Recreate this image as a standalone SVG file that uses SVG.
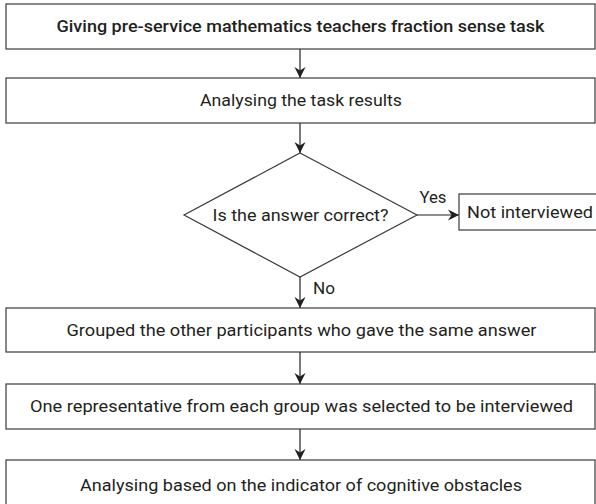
<svg xmlns="http://www.w3.org/2000/svg" width="596" height="504" viewBox="0 0 596 504">
<defs>
<style>
.box{fill:#fff;stroke:#3a3a3a;stroke-width:1.2}
.t{font-family:Roboto,"Noto Sans",sans-serif;font-size:16px;fill:#231f20;text-anchor:middle}
.b{font-weight:500}
.c{fill:none;stroke:#231f20;stroke-width:1.2}
</style>
<marker id="ah" markerUnits="userSpaceOnUse" markerWidth="12" markerHeight="14" viewBox="0 0 12 14" refX="11" refY="7" orient="auto">
<path d="M0,1.5 L11,7 L0,12.5 L3.5,7 z" fill="#231f20"/>
</marker>
</defs>
<rect width="596" height="504" fill="#fff"/>
<g id="connectors">
<line class="c" x1="300" y1="49" x2="300" y2="78" marker-end="url(#ah)"/>
<line class="c" x1="300" y1="123" x2="300" y2="153" marker-end="url(#ah)"/>
<line class="c" x1="417" y1="215" x2="459" y2="215" stroke-width="1.6" marker-end="url(#ah)"/>
<line class="c" x1="300" y1="277" x2="300" y2="308" marker-end="url(#ah)"/>
<line class="c" x1="300" y1="352" x2="300" y2="384" marker-end="url(#ah)"/>
<line class="c" x1="300" y1="429" x2="300" y2="460" marker-end="url(#ah)"/>
<text class="t" x="433" y="203" textLength="27" lengthAdjust="spacingAndGlyphs">Yes</text>
<text class="t" x="313" y="294" style="text-anchor:start" textLength="22" lengthAdjust="spacingAndGlyphs">No</text>
</g>
<g id="n1">
<rect class="box" x="6" y="4" width="589" height="45"/>
<text class="t b" x="300.5" y="32" textLength="488" lengthAdjust="spacingAndGlyphs">Giving pre-service mathematics teachers fraction sense task</text>
</g>
<g id="n2">
<rect class="box" x="6" y="78" width="589" height="45"/>
<text class="t" x="301" y="106" textLength="202" lengthAdjust="spacingAndGlyphs">Analysing the task results</text>
</g>
<g id="n3">
<polygon class="box" points="300,153 417,215 300,277 184,215"/>
<text class="t" x="300.5" y="221" textLength="176" lengthAdjust="spacingAndGlyphs">Is the answer correct?</text>
</g>
<g id="n4">
<rect class="box" x="459" y="194" width="140" height="36"/>
<text class="t" x="467" y="218" style="text-anchor:start" textLength="126" lengthAdjust="spacingAndGlyphs">Not interviewed</text>
</g>
<g id="n5">
<rect class="box" x="6" y="308" width="589" height="44"/>
<text class="t" x="301.5" y="336" textLength="470" lengthAdjust="spacingAndGlyphs">Grouped the other participants who gave the same answer</text>
</g>
<g id="n6">
<rect class="box" x="6" y="384" width="589" height="45"/>
<text class="t" x="301.5" y="412" textLength="543" lengthAdjust="spacingAndGlyphs">One representative from each group was selected to be interviewed</text>
</g>
<g id="n7">
<rect class="box" x="6" y="460" width="589" height="50"/>
<text class="t" x="301" y="491" textLength="442" lengthAdjust="spacingAndGlyphs">Analysing based on the indicator of cognitive obstacles</text>
</g>
</svg>
